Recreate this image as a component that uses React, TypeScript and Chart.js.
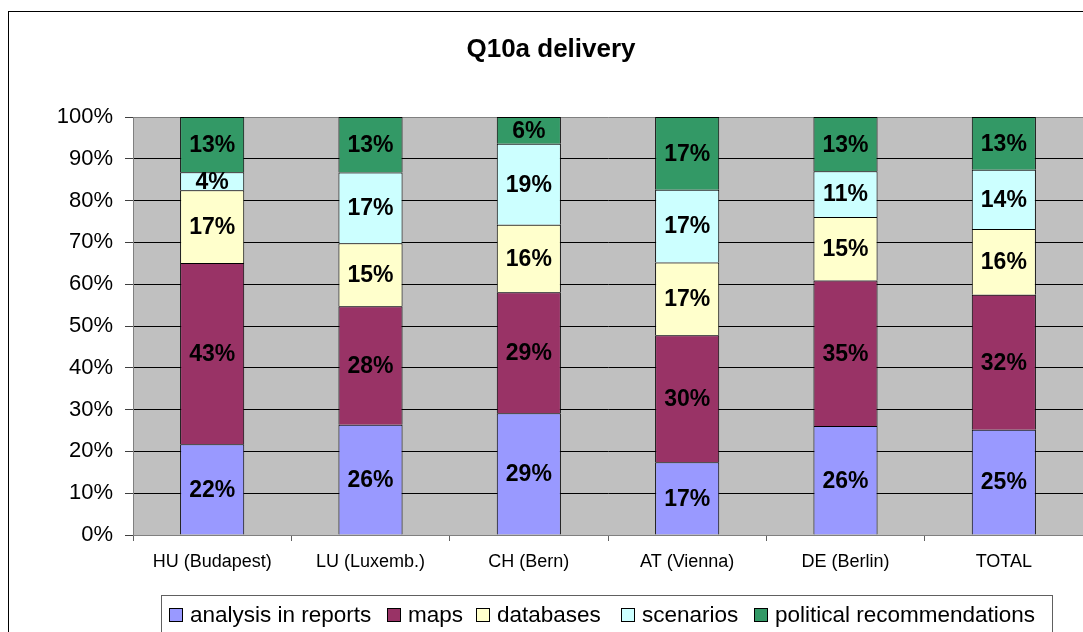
import React, { useEffect, useRef } from "react";
import { Chart, registerables } from "chart.js";

Chart.register(...registerables);

const categories = ["HU (Budapest)", "LU (Luxemb.)", "CH (Bern)", "AT (Vienna)", "DE (Berlin)", "TOTAL"];
const seriesNames = ["analysis in reports", "maps", "databases", "scenarios", "political recommendations"];
const analysisInReports = [21.7, 26.4, 29.1, 17.4, 26.1, 25.2];
const maps = [43.4, 28.3, 29.0, 30.4, 34.8, 32.3];
const databases = [17.4, 15.1, 16.1, 17.4, 15.2, 15.7];
const scenarios = [4.3, 16.9, 19.4, 17.4, 10.9, 14.2];
const politicalRecommendations = [13.2, 13.3, 6.4, 17.4, 13.0, 12.6];
const seriesColors = ["#9999FF", "#993366", "#FFFFCC", "#CCFFFF", "#339966"];
const yTicks = [0, 10, 20, 30, 40, 50, 60, 70, 80, 90, 100];
const chartTitle = "Q10a delivery";

const FONT = "'Liberation Sans', Arial, sans-serif";
const LEGEND_X = [169, 387, 476, 621, 754];

const decorPlugin = {
  id: "decor",
  beforeDraw(chart: any) {
    const { ctx, chartArea } = chart;
    ctx.save();
    ctx.fillStyle = "#ffffff";
    ctx.fillRect(0, 0, chart.width, chart.height);
    ctx.fillStyle = "#C0C0C0";
    ctx.fillRect(chartArea.left, chartArea.top, chartArea.right - chartArea.left, chartArea.bottom - chartArea.top);
    ctx.restore();
  },
  afterDatasetsDraw(chart: any) {
    const { ctx } = chart;
    ctx.save();
    ctx.font = `bold 23px ${FONT}`;
    ctx.fillStyle = "#000";
    ctx.textAlign = "center";
    ctx.textBaseline = "middle";
    chart.data.datasets.forEach((ds: any, i: number) => {
      const meta = chart.getDatasetMeta(i);
      meta.data.forEach((el: any, j: number) => {
        const v = ds.data[j];
        const cy = (el.y + el.base) / 2;
        ctx.fillText(Math.round(v) + "%", el.x, cy + 1);
      });
    });
    ctx.restore();
  },
  afterDraw(chart: any) {
    const { ctx } = chart;
    ctx.save();
    // outer frame
    ctx.strokeStyle = "#000";
    ctx.lineWidth = 1;
    ctx.strokeRect(8.5, 11.5, 1200, 800);
    // title
    ctx.font = `bold 26px ${FONT}`;
    ctx.fillStyle = "#000";
    ctx.textAlign = "center";
    ctx.textBaseline = "alphabetic";
    ctx.fillText(chartTitle, 551, 57);
    // legend
    ctx.strokeStyle = "#606060";
    ctx.strokeRect(161.5, 595.5, 891, 80);
    ctx.font = `22.5px ${FONT}`;
    ctx.textAlign = "left";
    chart.data.datasets.forEach((ds: any, i: number) => {
      const x = LEGEND_X[i];
      ctx.fillStyle = ds.backgroundColor;
      ctx.fillRect(x, 608, 14, 14);
      ctx.strokeStyle = "#000";
      ctx.strokeRect(x + 0.5, 608.5, 13, 13);
      ctx.fillStyle = "#000";
      ctx.fillText(ds.label, x + 21, 622);
    });
    ctx.restore();
  },
};

export default function App() {
  const ref = useRef<HTMLCanvasElement | null>(null);
  useEffect(() => {
    if (!ref.current) return;
    const seriesValues = [analysisInReports, maps, databases, scenarios, politicalRecommendations];
    const chart = new Chart(ref.current, {
      type: "bar",
      data: {
        labels: categories,
        datasets: seriesNames.map((name, i) => ({
          label: name,
          data: seriesValues[i],
          backgroundColor: seriesColors[i],
          borderColor: "#000",
          borderWidth: 1,
          barPercentage: 0.405,
          categoryPercentage: 1,
        })),
      },
      options: {
        responsive: false,
        animation: false,
        layout: { padding: { left: 0, top: 117, right: 0, bottom: 57 } },
        plugins: {
          legend: { display: false },
          title: { display: false },
          tooltip: { enabled: false },
        },
        scales: {
          x: {
            stacked: true,
            afterFit: (s: any) => { s.height = 40; },
            grid: {
              offset: true,
              drawOnChartArea: false,
              drawTicks: true,
              tickLength: 6,
              color: "#606060",
            },
            border: { color: "#808080", width: 1 },
            ticks: {
              color: "#000",
              font: { family: FONT, size: 18 },
              padding: 10,
              maxRotation: 0,
              autoSkip: false,
            },
          },
          y: {
            stacked: true,
            min: 0,
            max: 100,
            afterFit: (s: any) => { s.width = 133; },
            afterBuildTicks: (s: any) => { s.ticks = yTicks.map((v) => ({ value: v })); },
            grid: {
              color: (c: any) => (c.tick && (c.tick.value === 100 || c.tick.value === 0) ? "#808080" : "#000"),
              tickColor: "#404040",
              tickLength: 8,
              lineWidth: 1,
            },
            border: { color: "#808080", width: 1 },
            ticks: {
              color: "#000",
              font: { family: FONT, size: 22 },
              padding: 12,
              callback: (v: any) => v + "%",
            },
          },
        },
      },
      plugins: [decorPlugin],
    });
    return () => chart.destroy();
  }, []);
  return (
    <div style={{ position: "absolute", left: 0, top: 0, width: 1083, height: 632 }}>
      <canvas ref={ref} width={1083} height={632} style={{ width: 1083, height: 632, display: "block" }} />
    </div>
  );
}
